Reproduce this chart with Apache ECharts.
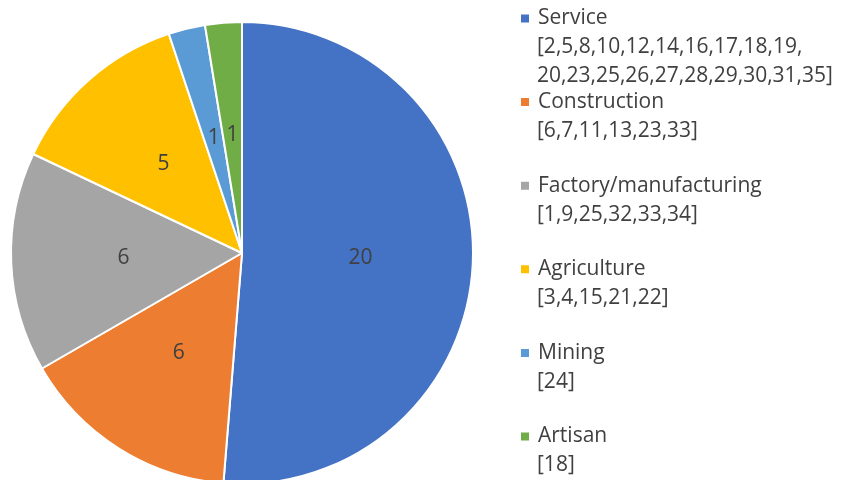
<!DOCTYPE html>
<html>
<head>
<meta charset="utf-8">
<script src="https://cdn.jsdelivr.net/npm/echarts@6/dist/echarts.min.js"></script>
<style>html,body{margin:0;padding:0;background:#fff}#c{width:845px;height:480px}</style>
</head>
<body>
<div id="c"></div>
<script>
const categories = ['Service', 'Construction', 'Factory/manufacturing', 'Agriculture', 'Mining', 'Artisan'];
const counts = [20, 6, 6, 5, 1, 1];
const ids = [
  [2,5,8,10,12,14,16,17,18,19,20,23,25,26,27,28,29,30,31,35],
  [6,7,11,13,23,33],
  [1,9,25,32,33,34],
  [3,4,15,21,22],
  [24],
  [18]
];
const colors = ['#4472C4', '#ED7D31', '#A5A5A5', '#FFC000', '#5B9BD5', '#70AD47'];

const FONT = 'Open Sans';
const TXT = '#404040';
const legendTop0 = 18.5;   // centre of first legend line
const legendStep = 83.6;
const lineStep = 29;

function idLines(arr) {
  const lines = [];
  for (let i = 0; i < arr.length; i += 10) {
    lines.push(arr.slice(i, i + 10).join(','));
  }
  return lines.map((l, i) => (i === 0 ? '[' : '') + l + (i === lines.length - 1 ? ']' : ','));
}

const graphics = [];
categories.forEach((c, k) => {
  idLines(ids[k]).forEach((line, j) => {
    graphics.push({
      type: 'text',
      left: 537,
      top: legendTop0 + k * legendStep + (j + 1) * lineStep - 12,
      style: { text: line, fill: TXT, font: '21px "' + FONT + '"', lineHeight: 24 }
    });
  });
});

const chart = echarts.init(document.getElementById('c'), null, { renderer: 'canvas' });
chart.setOption({
  animation: false,
  color: colors,
  textStyle: { fontFamily: FONT },
  legend: {
    orient: 'vertical',
    left: 519,
    top: legendTop0 - 10.5,
    padding: 0,
    itemWidth: 10,
    itemHeight: 10,
    itemGap: legendStep - 21,
    icon: 'rect',
    data: categories,
    textStyle: { fontFamily: FONT, fontSize: 21, lineHeight: 21, color: TXT, padding: [0, 0, 0, 3] }
  },
  graphic: graphics,
  series: [{
    type: 'pie',
    center: [242, 253],
    radius: 231,
    startAngle: 90,
    clockwise: true,
    avoidLabelOverlap: false,
    itemStyle: { borderColor: '#fff', borderWidth: 2 },
    label: { show: true, position: 'inside', formatter: '{c}', color: TXT, fontFamily: FONT, fontSize: 21 },
    labelLine: { show: false },
    emphasis: { disabled: true },
    data: categories.map((n, i) => ({ name: n, value: counts[i] }))
  }]
});
</script>
</body>
</html>
